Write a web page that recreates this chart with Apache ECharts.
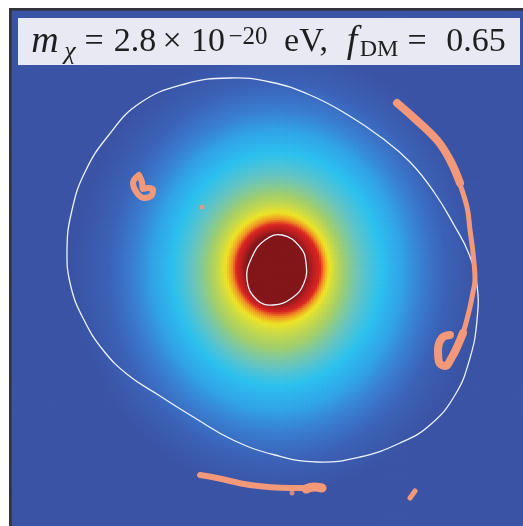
<!DOCTYPE html>
<html><head><meta charset="utf-8">
<script src="https://cdn.jsdelivr.net/npm/echarts@6/dist/echarts.min.js"></script>
<style>html,body{margin:0;padding:0;background:#fff}#c{width:523px;height:526px}</style>
</head><body><div id="c"></div>
<script>
// ---- density field: iso-level rings (plot units) ----
const ringLevel = [10, 9, 8, 7, 6, 5, 4, 3, 2, 1, 0];
const ringCx    = [277, 279, 279, 278, 277, 277, 278, 278, 278, 278, 278];
const ringCy    = [270, 269, 269, 269, 272, 272, 270, 271, 272, 272, 272];
const ringRx    = [30, 42, 46, 52, 67, 85, 105, 125, 145, 170, 205];
const ringRy    = [35, 44, 49, 56, 77, 97, 117, 140, 162, 190, 225];
const levelColors = ['#3b54a5', '#3c62b7', '#3a80d2', '#31a6e8', '#2cc4f1', '#66c8c4',
                     '#a6d36a', '#f5ea22', '#f6931e', '#e2231f', '#861414'];

// ---- white contours (closed) ----
const outerContour = [[230,78],[270,82],[310,95],[348,115],[382,138],[410,162],[434,192],[454,225],[469,254],
  [477,285],[477,320],[470,358],[455,395],[430,425],[400,443],[360,457],[317,462],[275,455],[233,440],[195,418],
  [160,396],[128,375],[103,350],[84,320],[71,287],[67,250],[72,210],[85,172],[108,136],[140,103],[185,84]];
const innerContour = [[282,235],[300,247],[306,263],[304,283],[292,298],[273,305],[257,300],[247,280],[252,257],
  [265,240]];

// ---- salmon contours ----
const salmonArcUpper = [[397,103],[413,117],[437,140],[450,160],[460,183]];
const salmonArcLower = [[457,176],[467,207],[470,230],[473,253],[475,280],[473,292],[470,307],[466,323],[463,333]];
const salmonCurl = [[463,333],[458,345],[452,357],[445,366],[439,362],[438,350],[442,338],[450,335]];
const salmonLeft = [[139,175],[133,183],[137,193],[144,198],[152,195],[153,190],[148,188],[143,189],[142,182],[139,175]];
const salmonBottom = [[200,475],[217,478],[250,485],[290,488],[310,488]];
const salmonBottomEnd = [[306,489],[314,487],[322,488]];
const salmonSpeck = [[410,498],[415,491]];
const salmonBits = [[292,493],[202,207]];

// ---- title pieces ----
const titlePieces = ['m', 'χ', '=', '2.8', '×', '10', '−20', 'eV,', 'f', 'DM', '=', '0.65'];

// ---- heatmap grid of the field ----
const nx = 256, ny = 258, cell = 2, x0 = 12, y0 = 11;
function levelAt(x, y) {
  let prev = null;
  for (let k = 0; k < ringLevel.length; k++) {
    const dx = (x - ringCx[k]) / ringRx[k], dy = (y - ringCy[k]) / ringRy[k];
    const s = Math.sqrt(dx * dx + dy * dy);
    if (s <= 1) {
      if (k === 0) return ringLevel[0];
      const t = (prev - 1) / (prev - s);
      return ringLevel[k - 1] + (ringLevel[k] - ringLevel[k - 1]) * t;
    }
    prev = s;
  }
  return 0;
}
const xs = [], ys = [], cells = [];
for (let i = 0; i < nx; i++) xs.push(i);
for (let j = 0; j < ny; j++) ys.push(j);
for (let i = 0; i < nx; i++) for (let j = 0; j < ny; j++)
  cells.push([i, j, levelAt(x0 + cell * i + cell / 2, y0 + cell * j + cell / 2)]);

const chart = echarts.init(document.getElementById('c'), null, {renderer: 'canvas'});
const salmon = '#f4987a';
function salmonLine(data, w) {
  return {type: 'line', xAxisIndex: 1, yAxisIndex: 1, data, smooth: 0.4, symbol: 'none', silent: true, z: 6,
    lineStyle: {color: salmon, width: w, cap: 'round', join: 'round'}};
}
function closedCurve(data, color, width) {
  return {type: 'custom', xAxisIndex: 1, yAxisIndex: 1, data, silent: true, z: 5,
    renderItem(params, api) {
      if (params.dataIndex !== 0) return null;
      const pts = data.map(p => api.coord(p));
      return {type: 'polygon', shape: {points: pts, smooth: 0.45},
        style: {fill: 'none', stroke: color, lineWidth: width}};
    }};
}
const T = '"Liberation Serif", "Times New Roman", serif';
const pieceStyle = [
  [45, 42, 38, true], [70, 52, 26, true], [94, 42, 34], [135, 42, 34], [172, 42, 34], [208, 42, 34],
  [248, 37, 25], [306, 42, 34], [352, 42, 38, true], [379, 50, 24], [417, 42, 34], [476, 42, 34]];
const titleTexts = titlePieces.map((t, i) => {
  const [x, y, size, italic] = pieceStyle[i];
  return {type: 'text', z: 101, style: {text: t, x, y, fill: '#1e1e1e', align: 'center', verticalAlign: 'middle',
    font: (italic ? 'italic ' : '') + size + 'px ' + T}};
});
chart.setOption({
  animation: false,
  backgroundColor: '#ffffff',
  grid: [{left: x0, top: y0, width: nx * cell, height: ny * cell}, {left: 12, top: 11, width: 511, height: 515}],
  xAxis: [{type: 'category', gridIndex: 0, data: xs, show: false},
          {type: 'value', gridIndex: 1, min: 12, max: 523, show: false}],
  yAxis: [{type: 'category', gridIndex: 0, data: ys, inverse: true, show: false},
          {type: 'value', gridIndex: 1, min: 11, max: 526, inverse: true, show: false}],
  visualMap: {type: 'continuous', show: false, min: 0, max: 10, seriesIndex: 0, inRange: {color: levelColors}},
  graphic: [
    {type: 'rect', z: 0, shape: {x: 9, y: 8, width: 530, height: 530}, style: {fill: '#34343c'}},
    {type: 'rect', z: 0, shape: {x: 12, y: 11, width: 520, height: 520}, style: {fill: levelColors[0]}},
    {type: 'rect', z: 100, shape: {x: 18, y: 18, width: 502, height: 47}, style: {fill: '#e8e9f3'}}
  ].concat(titleTexts),
  series: [
    {type: 'heatmap', xAxisIndex: 0, yAxisIndex: 0, data: cells, progressive: 0, silent: true,
      itemStyle: {borderWidth: 0}, emphasis: {disabled: true}},
    closedCurve(outerContour, '#eef2fb', 1.3),
    closedCurve(innerContour, '#eef2fb', 1.3),
    salmonLine(salmonArcUpper, 8), salmonLine(salmonArcLower, 5), salmonLine(salmonCurl, 8),
    salmonLine(salmonLeft, 6), salmonLine(salmonBottom, 6), salmonLine(salmonBottomEnd, 9),
    salmonLine(salmonSpeck, 5),
    {type: 'scatter', xAxisIndex: 1, yAxisIndex: 1, data: salmonBits, symbolSize: 5, silent: true, z: 6,
      itemStyle: {color: salmon}}
  ]
});
</script></body></html>
